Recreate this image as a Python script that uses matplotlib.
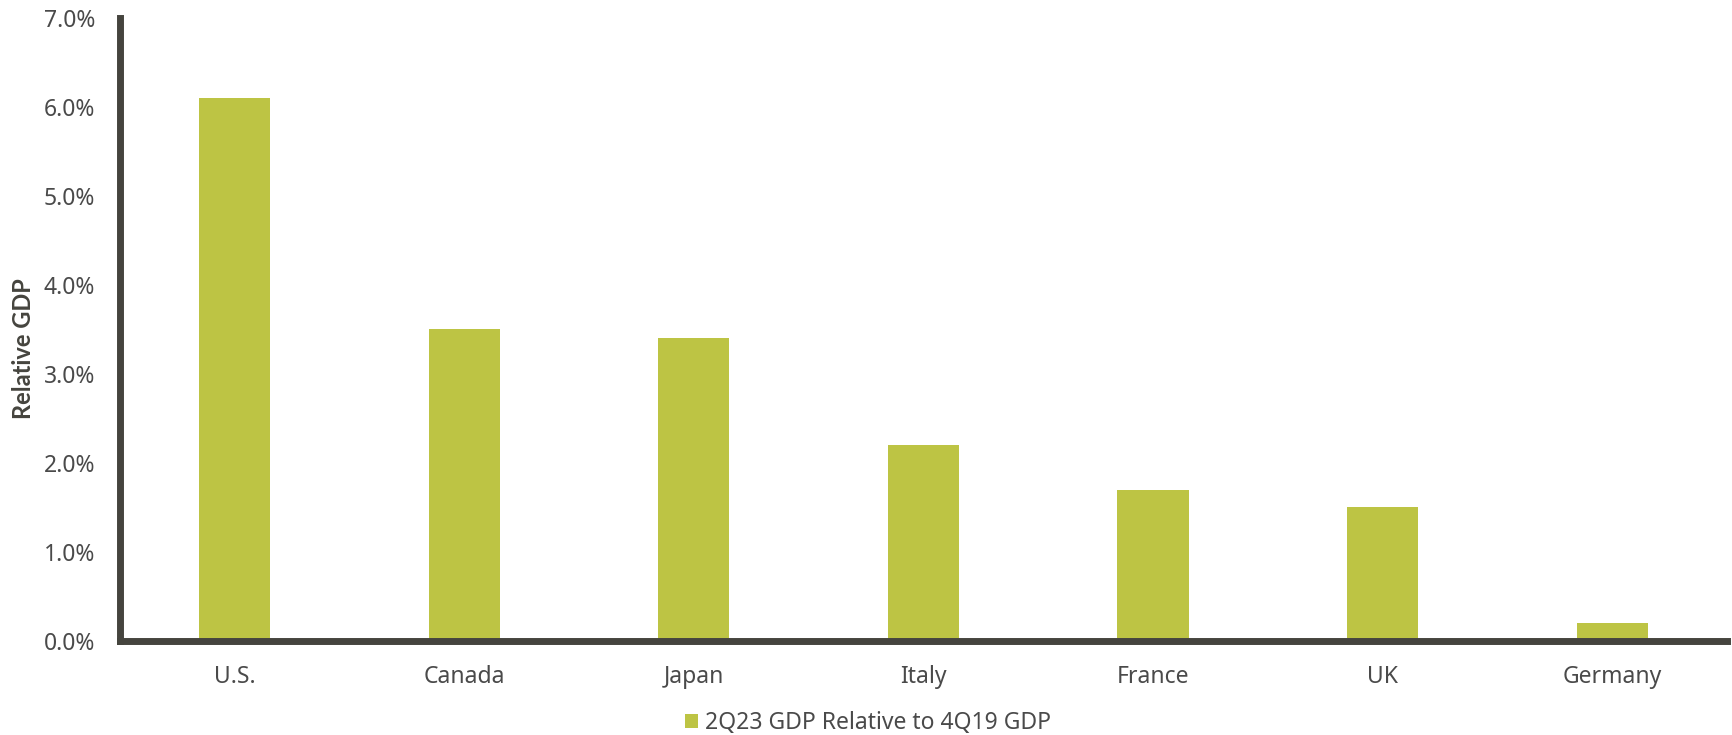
import matplotlib.pyplot as plt
from matplotlib.ticker import FuncFormatter

countries = ["U.S.", "Canada", "Japan", "Italy", "France", "UK", "Germany"]
gdp_rel = [6.1, 3.5, 3.4, 2.2, 1.7, 1.5, 0.2]
series_name = "2Q23 GDP Relative to 4Q19 GDP"

bar_color = "#BDC444"
axis_color = "#45443E"
text_color = "#4A4A4A"

plt.rcParams['font.family'] = ['Noto Sans', 'DejaVu Sans']

fig = plt.figure(figsize=(17.33, 7.35), dpi=100)
ax = fig.add_axes([0.0692, 0.128, 0.9273, 0.8475])

x = range(len(countries))
ax.bar(x, gdp_rel, width=0.31, color=bar_color, label=series_name, zorder=2)

ax.set_xlim(-0.5, 6.5)
ax.set_ylim(0, 7.0)
ax.set_yticks([i for i in range(8)])
ax.yaxis.set_major_formatter(FuncFormatter(lambda v, p: "{:.1f}%".format(v)))
ax.set_xticks(list(x))
ax.set_xticklabels(countries)
ax.tick_params(axis='both', length=0, labelsize=16.5, colors=text_color)
ax.tick_params(axis='y', pad=18)
ax.tick_params(axis='x', pad=17)

for s in ['top', 'right']:
    ax.spines[s].set_visible(False)
for s in ['left', 'bottom']:
    ax.spines[s].set_color(axis_color)
    ax.spines[s].set_linewidth(5)

# bold label: Noto Sans has no bold here, so use Lato Bold
ax.set_ylabel("Relative GDP", fontsize=17, fontweight='bold', color=axis_color,
              family=['Lato', 'DejaVu Sans'])
ax.yaxis.set_label_coords(-0.053, 0.47)

leg = fig.legend(loc='center', bbox_to_anchor=(0.501, 0.016), frameon=False,
                 fontsize=16.5, handlelength=0.55, handleheight=0.55, handletextpad=0.3,
                 borderpad=0, borderaxespad=0)
for t in leg.get_texts():
    t.set_color(text_color)

fig.savefig("out.png", dpi=100)
